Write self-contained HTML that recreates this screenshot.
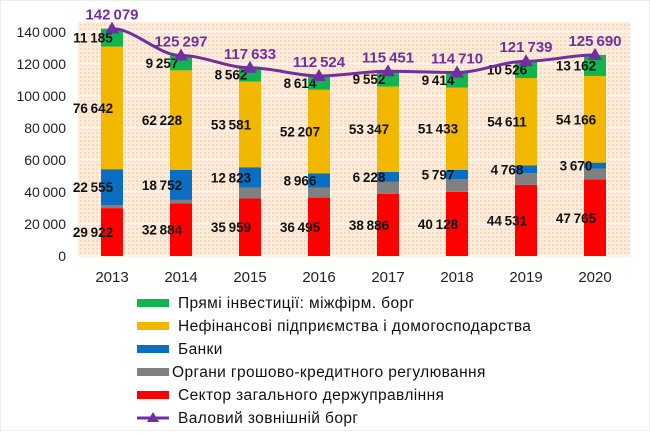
<!DOCTYPE html>
<html><head><meta charset="utf-8"><style>
body{margin:0;background:#fff;}
svg text{font-family:"Liberation Sans","DejaVu Sans",sans-serif;}
</style></head><body>
<svg width="650" height="431" viewBox="0 0 650 431">
<defs>
<pattern id="dots" width="4" height="4" patternUnits="userSpaceOnUse">
<rect width="4" height="4" fill="#fdebdc"/><rect width="2" height="2" fill="#f8d9bd"/>
</pattern>
</defs>
<rect x="0" y="0" width="650" height="431" fill="#fff" stroke="#ddd"/>
<rect x="78" y="22" width="552" height="235" fill="url(#dots)"/>
<g id="grid"></g><g id="bars"></g><g id="labels"></g><g id="line"></g>
<g id="legend"></g>
</svg>
<script>
const years=["2013","2014","2015","2016","2017","2018","2019","2020"];
const gov=[29922,32884,35959,36495,38886,40128,44531,47765];
const monetary=[1775,2176,6708,6242,7438,7938,7303,6927];
const banks=[22555,18752,12823,8966,6228,5797,4768,3670];
const nonfin=[76642,62228,53581,52207,53347,51433,54611,54166];
const fdi=[11185,9257,8562,8614,9552,9414,10526,13162];
const totals=[142079,125297,117633,112524,115451,114710,121739,125690];
const yTicks=[0,20000,40000,60000,80000,100000,120000,140000];
const NS="http://www.w3.org/2000/svg";
const y0=256,pxPer=224/140000;
const yS=v=>y0-v*pxPer;
const xS=i=>112+i*69;
const fmt=v=>String(v).replace(/\B(?=(\d{3})+(?!\d))/g,"\u202f");
function mk(tag,attrs,parent){const e=document.createElementNS(NS,tag);for(const k in attrs)e.setAttribute(k,attrs[k]);parent.appendChild(e);return e;}
const grid=document.getElementById('grid');
yTicks.forEach(t=>{
 const l=mk('line',{x1:78,x2:630,y1:yS(t),y2:yS(t),stroke:'#fff','stroke-width':1},grid);
 
 
 const tx=mk('text',{x:66,y:yS(t)+5,'text-anchor':'end','font-size':14,fill:'#222'},grid);
 tx.textContent=t===0?"0":fmt(t);
 
 
});
const series=[[gov,'#ff0000','gov'],[monetary,'#808080','monetary'],[banks,'#0a6fc2','banks'],[nonfin,'#f2b800','nonfin'],[fdi,'#10b550','fdi']];
const bars=document.getElementById('bars'),labels=document.getElementById('labels');
years.forEach((yr,i)=>{
 let base=0;
 series.forEach(([arr,col,nm])=>{
  const v=arr[i];
  const r=mk('rect',{x:xS(i)-11,width:22,y:yS(base+v),height:v*pxPer,fill:col},bars);
  
  
  if(nm!=='monetary'){
   const t=mk('text',{x:xS(i)-19,y:yS(base+v/2)+5,'text-anchor':'middle','font-size':13.5,'font-weight':'bold','letter-spacing':0.3,fill:'#111'},labels);
   t.textContent=fmt(v);
   
   
  }
  base+=v;
 });
 const xt=mk('text',{x:xS(i),y:282,'text-anchor':'middle','font-size':15,fill:'#222'},labels);
 xt.textContent=yr;
 
 
});
const lg=document.getElementById('line');
let d="";
totals.forEach((v,i)=>{
 const x=xS(i),y=yS(v);
 if(i===0)d+=`M${x},${y}`;else{const px=xS(i-1),py=yS(totals[i-1]);d+=` C${px+23},${py} ${x-23},${y} ${x},${y}`;}
});
const p=mk('path',{d:d,fill:'none',stroke:'#7030a0','stroke-width':3},lg);


totals.forEach((v,i)=>{
 const x=xS(i),y=yS(v);
 const m=mk('polygon',{points:`${x},${y-7} ${x-7},${y+5} ${x+7},${y+5}`,fill:'#7030a0'},lg);
 
 
 const t=mk('text',{x:x,y:y-9,'text-anchor':'middle','font-size':15,'font-weight':'bold','letter-spacing':0.3,fill:'#7030a0'},lg);
 t.textContent=fmt(v);
 
 
});
const legendItems=[['Прямі інвестиції: міжфірм. борг','#10b550'],['Нефінансові підприємства і домогосподарства','#f2b800'],['Банки','#0a6fc2'],['Органи грошово-кредитного регулювання','#808080'],['Сектор загального держуправління','#ff0000'],['Валовий  зовнішній борг','line']];
const leg=document.getElementById('legend');
legendItems.forEach(([txt,col],k)=>{
 const y=303+k*23;
 const g=mk('g',{},leg);
 
 
 if(col==='line'){
  mk('line',{x1:137,x2:169,y1:y,y2:y,stroke:'#7030a0','stroke-width':3},g);
  mk('polygon',{points:`153,${y-6} 147,${y+4} 159,${y+4}`,fill:'#7030a0'},g);
 } else mk('rect',{x:137,y:y-4,width:32,height:8,fill:col},g);
 const t=mk('text',{x:k===3?172:178,y:y+5,'font-size':15.5,'letter-spacing':0.4,fill:'#111','xml:space':'preserve'},g);
 t.textContent=txt;
});
</script>
</body></html>
